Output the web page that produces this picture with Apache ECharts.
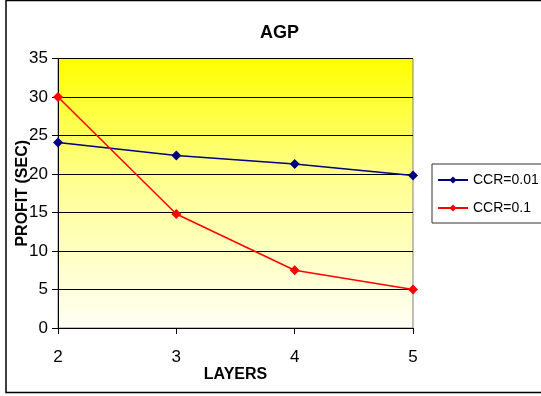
<!DOCTYPE html>
<html>
<head>
<meta charset="utf-8">
<script src="https://cdn.jsdelivr.net/npm/echarts@6/dist/echarts.min.js"></script>
<style>html,body{margin:0;padding:0;background:#fff}#c{width:541px;height:396px}</style>
</head>
<body>
<div id="c"></div>
<script>
var layers = [2, 3, 4, 5];
var ccr001 = [24.1, 22.4, 21.3, 19.8];
var ccr01 = [30.0, 14.8, 7.5, 5.0];
var seriesNames = ['CCR=0.01', 'CCR=0.1'];
var yTicks = [0, 5, 10, 15, 20, 25, 30, 35];

var FONT = "'Liberation Sans', Arial, sans-serif";
var chart = echarts.init(document.getElementById('c'), null, {renderer: 'canvas'});

function pairs(xs, ys) { return xs.map(function (x, i) { return [x, ys[i]]; }); }

chart.setOption({
  animation: false,
  backgroundColor: '#ffffff',
  textStyle: {fontFamily: FONT},
  title: {
    text: 'AGP', left: 274.5, top: 19, textAlign: 'center',
    textStyle: {fontFamily: FONT, fontWeight: 'bold', fontSize: 18, color: '#000'}
  },
  graphic: [{
    type: 'rect', silent: true, z: 100,
    shape: {x: 6, y: 0.5, width: 600, height: 392},
    style: {fill: 'none', stroke: '#000', lineWidth: 1.5}
  }],
  legend: {
    orient: 'vertical', left: 432, top: 164,
    padding: [9, 80, 8, 5], itemGap: 14, itemWidth: 30, itemHeight: 9,
    borderColor: '#333', borderWidth: 1, backgroundColor: '#fff',
    textStyle: {fontFamily: FONT, fontSize: 14, color: '#000'},
    data: seriesNames
  },
  grid: {
    left: 58, right: 128, top: 58.5, bottom: 68,
    outerBoundsMode: 'none', containLabel: false,
    show: true, borderColor: '#808080', borderWidth: 1,
    backgroundColor: new echarts.graphic.LinearGradient(0, 0, 0, 1, [
      {offset: 0, color: '#FFFF00'},
      {offset: 0.45, color: '#FFFF90'},
      {offset: 1, color: '#FFFFF6'}
    ])
  },
  xAxis: {
    type: 'value', min: 2, max: 5, interval: 1,
    name: 'LAYERS', nameLocation: 'middle', nameGap: 39, nameMoveOverlap: false,
    nameTextStyle: {fontFamily: FONT, fontWeight: 'bold', fontSize: 16, color: '#000'},
    axisLine: {show: true, lineStyle: {color: '#000', width: 1}},
    axisTick: {show: true, length: 6, lineStyle: {color: '#000'}},
    axisLabel: {margin: 21, fontSize: 17, color: '#000', fontFamily: FONT},
    splitLine: {show: false}
  },
  yAxis: {
    type: 'value', min: 0, max: 35, interval: 5,
    name: 'PROFIT (SEC)', nameLocation: 'middle', nameGap: 27, nameRotate: 90, nameMoveOverlap: false,
    nameTextStyle: {fontFamily: FONT, fontWeight: 'bold', fontSize: 16, color: '#000'},
    axisLine: {show: true, lineStyle: {color: '#000', width: 1}},
    axisTick: {show: true, length: 6, lineStyle: {color: '#000'}},
    axisLabel: {margin: 10, fontSize: 17, color: '#000', fontFamily: FONT,
      formatter: function (v) { return yTicks.indexOf(v) >= 0 ? String(v) : ''; }},
    splitLine: {show: true, lineStyle: {color: '#000', width: 1}}
  },
  series: [{
    name: seriesNames[0], type: 'line', data: pairs(layers, ccr001),
    symbol: 'diamond', symbolSize: 10,
    lineStyle: {color: '#000080', width: 1.5},
    itemStyle: {color: '#000080'}
  }, {
    name: seriesNames[1], type: 'line', data: pairs(layers, ccr01),
    symbol: 'diamond', symbolSize: 10,
    lineStyle: {color: '#FF0000', width: 1.5},
    itemStyle: {color: '#FF0000'}
  }]
});
</script>
</body>
</html>
